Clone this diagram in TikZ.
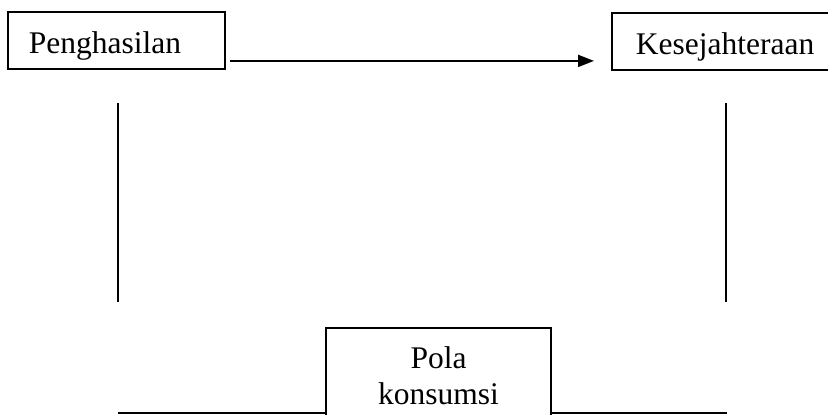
\documentclass[tikz,border=0pt]{standalone}
\usepackage{fontspec}
\setmainfont{Liberation Serif}
\usetikzlibrary{arrows.meta}
\tikzset{
	box/.style={draw, line width=1.8pt, inner ysep=0pt, text height=42pt, text depth=15pt, font=\fontsize{31.5}{36}\selectfont},
	arr/.style={line width=1.9pt, -{Triangle[length=16pt,width=12pt]}},
	ln/.style={line width=2pt}
}

\begin{document}
\begin{tikzpicture}[x=1pt, y=-1pt]
		%%%%% START %%%%%
		
		\useasboundingbox (0, 0) rectangle (828, 415);
		
		\node[box, anchor=north west, text width=175pt, align=left, inner xsep=21pt] (peng) at (7, 11) {Penghasilan};
		\node[box, anchor=north west, inner xsep=24pt] (kes) at (611, 12) {Kesejahteraan};
		\node[draw, line width=1.8pt, anchor=north, minimum width=225pt, inner ysep=18.5pt, align=center, font=\fontsize{31.5}{36}\selectfont] (pola) at (438.5, 327) {Pola\\konsumsi};
		
		\draw[arr, shorten <=4pt, shorten >=17pt] ([yshift=-20.5pt]peng.east) -- ([yshift=-20.5pt]peng.east -| kes.west);
		
		\coordinate (lt) at (118, 103);
		\coordinate (lb) at (118, 302);
		\coordinate (rt) at (726, 103);
		\coordinate (rb) at (726, 302);
		\draw[ln] (lt) -- (lb);
		\draw[ln] (rt) -- (rb);
		
		\coordinate (bl) at (118, 413);
		\coordinate (br) at (727, 413);
		\draw[ln] (bl) -- (bl -| pola.west);
		\draw[ln] (pola.east |- br) -- (br);
		
		%%%%% END %%%%%
\end{tikzpicture}
\end{document}
